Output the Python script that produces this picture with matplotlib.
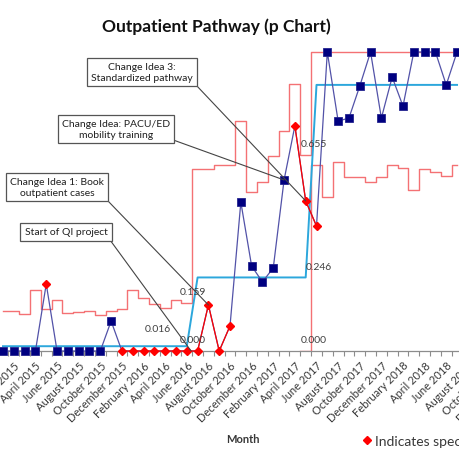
import numpy as np
import pandas as pd
import matplotlib
matplotlib.use("Agg")
import matplotlib.pyplot as plt

plt.rcParams["font.family"] = ["Lato", "DejaVu Sans"]

# ---- data ----
months = pd.date_range("2015-01-01", periods=48, freq="MS")
month_labels = [d.strftime("%B %Y") for d in months]

# proportion per month, Jan 2015 .. Jul 2018
pct = [0, 0, 0, 0, 0.224, 0, 0, 0, 0, 0,
       0.100, 0, 0, 0, 0, 0, 0, 0, 0, 0.154,
       0, 0.084, 0.498, 0.284, 0.231, 0.278, 0.572, 0.753, 0.502, 0.418,
       1.0, 0.769, 0.779, 0.886, 1.0, 0.779, 0.916, 0.819, 1.0, 1.0,
       1.0, 0.890, 1.0]
# months flagged as special cause
special = [4, 11, 12, 13, 14, 15, 16, 17, 18, 19, 20, 21, 27, 28, 29]

# phase centre lines / limits
cl = [0.016] * 18 + [0.246] * 11 + [0.890] * 14
ucl = [0.134, 0.134, 0.124, 0.205, 0.140, 0.171, 0.127, 0.131, 0.135, 0.121,
       0.135, 0.140, 0.205, 0.177, 0.157, 0.144, 0.171, 0.159,
       0.609, 0.609, 0.622, 0.622, 0.769, 0.532, 0.565, 0.652, 0.736, 0.893, 0.655,
       1.0, 1.0, 1.0, 1.0, 1.0, 1.0, 1.0, 1.0, 1.0, 1.0, 1.0, 1.0, 1.0, 1.0]
lcl = [np.nan] * 28 + [0.0] + [0.622, 0.515, 0.632, 0.582, 0.582, 0.565, 0.582,
                              0.622, 0.612, 0.538, 0.609, 0.599, 0.585, 0.622]

# last month of phase 1 and phase 2
phase_ends = [17, 28]

x = np.arange(len(pct))
pct = np.array(pct, dtype=float)
is_sp = np.zeros(len(pct), dtype=bool)
is_sp[special] = True

# ---- figure ----
fig = plt.figure(figsize=(4.6, 4.6), dpi=100)
# axes run past the right edge (chart is cropped in the source)
ax = fig.add_axes([-2.4 / 460, 108 / 460, 518.9 / 460, 1.1 * 299 / 460])
ax.set_xlim(-0.5, len(months) - 0.5)
ax.set_ylim(0, 1.1)

C_UCL = "#F47174"
C_CL = "#2CA7DC"
C_LINE = "#5252A8"
C_SQ = "#000080"
C_RED = "#FF0000"

ax.plot(x, ucl, drawstyle="steps-mid", color=C_UCL, lw=1.0, zorder=2)
ax.plot(x, lcl, drawstyle="steps-mid", color=C_UCL, lw=1.0, zorder=2)
ax.plot(x, cl, color=C_CL, lw=1.4, zorder=2)

ax.plot(x, pct, color=C_LINE, lw=0.9, zorder=3, clip_on=False)
ax.plot(x, np.where(is_sp, pct, np.nan), color=C_RED, lw=0.9, zorder=3, clip_on=False)
ax.plot(x[~is_sp], pct[~is_sp], ls="none", marker="s", ms=6, mfc=C_SQ,
        mec="#23238F", mew=0.6, zorder=4, clip_on=False)
sp, = ax.plot(x[is_sp], pct[is_sp], ls="none", marker="D", ms=4.5, mfc=C_RED,
              mec=C_RED, zorder=4, clip_on=False,
              label="Indicates special cause variation")

# value labels at phase ends
lab = dict(fontsize=7.5, color="#404040", ha="center", va="center",
           textcoords="offset points")
e1, e2 = phase_ends
ax.annotate(f"{cl[e1]:.3f}", xy=(e1, cl[e1]), xytext=(-21, 13), **lab)
ax.annotate("0.000", xy=(e1, 0), xytext=(4.5, 8), **lab)
ax.annotate(f"{ucl[e1]:.3f}", xy=(e1, ucl[e1]), xytext=(4.5, 8.3), **lab)
ax.annotate(f"{cl[e2]:.3f}", xy=(e2, cl[e2]), xytext=(9.6, 8.2), **lab)
ax.annotate(f"{ucl[e2]:.3f}", xy=(e2, ucl[e2]), xytext=(6, 8.6), **lab)
ax.annotate(f"{lcl[e2]:.3f}", xy=(e2, 0), xytext=(6, 8), **lab)

# callouts
box = dict(boxstyle="square,pad=0.4", fc="white", ec="#555555", lw=0.9)
arrow = dict(arrowstyle="-", color="#444444", lw=0.8, shrinkA=0, shrinkB=0,
             relpos=(1, 0))
notes = [
    ("Change Idea 3:\nStandardized pathway", (28, pct[28]), (12.86, 0.933)),
    ("Change Idea: PACU/ED\nmobility training", (26, pct[26]), (10.45, 0.742)),
    ("Change Idea 1: Book\noutpatient cases", (19, pct[19]), (5.0, 0.548)),
    ("Start of QI project", (17.4, 0), (5.83, 0.398)),
]
for txt, xy, xyt in notes:
    ax.annotate(txt, xy=xy, xytext=xyt, ha="center", va="center",
                multialignment="center", fontsize=7.5, color="#202020",
                bbox=box, arrowprops=arrow, zorder=6,
                annotation_clip=False)

# axis styling
for s in ["top", "left", "right"]:
    ax.spines[s].set_visible(False)
ax.spines["bottom"].set_color("#8C8C8C")
ax.spines["bottom"].set_linewidth(0.9)
ax.set_yticks([])
ax.set_xticks(np.arange(1, len(months), 2),
              [month_labels[i] for i in range(1, len(months), 2)])
ax.set_xticks(np.arange(-0.5, len(months), 1), minor=True)
ax.tick_params(axis="x", which="major", length=0, pad=6, labelsize=8,
               labelcolor="#383838")
ax.tick_params(axis="x", which="minor", length=3.5, color="#8C8C8C", width=0.8)
plt.setp(ax.get_xticklabels(), rotation=45, ha="right", rotation_mode="anchor")

ax.set_xlabel("Month", fontsize=8, fontweight="bold", color="#383838")
ax.xaxis.set_label_coords(245.4 / 518.9, -82 / 329)

fig.text(216 / 460, 1 - 27 / 460, "Outpatient Pathway (p Chart)",
         fontsize=12.5, fontweight="bold", ha="center", va="center",
         color="#111111")

fig.legend(handles=[sp], loc="center left", bbox_to_anchor=(363 / 460, 1 - 442 / 460),
           frameon=False, fontsize=10, handlelength=0.6, handletextpad=0.25,
           borderpad=0, borderaxespad=0, labelcolor="#383838")

fig.savefig("out.png", dpi=100)
